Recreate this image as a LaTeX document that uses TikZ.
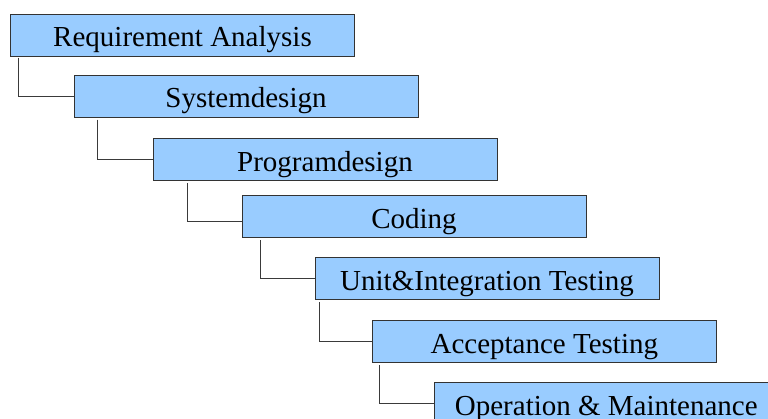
\documentclass[tikz,border=0pt]{standalone}
\usepackage{fontspec}
\setmainfont{Liberation Serif}
\definecolor{boxfill}{HTML}{99CCFF}
\definecolor{boxline}{HTML}{333333}
\definecolor{conn}{HTML}{3A3A3A}
\begin{document}
\begin{tikzpicture}[x=1pt,y=-1pt,
  stage/.style={draw=boxline, line width=1pt, fill=boxfill, minimum width=344pt, minimum height=42pt,
    inner sep=0pt, text height=23.4pt, text depth=0pt, font=\fontsize{29}{30}\selectfont, text=black},
  link/.style={draw=conn, line width=1pt}]
\useasboundingbox (0,0) rectangle (768,418);
\clip (0,0) rectangle (768,418);
\node[stage] (r1) at (182.5,35) {Requirement Analysis};
\node[stage] (r2) at (246,96) {Systemdesign};
\node[stage] (r3) at (325,159.5) {Programdesign};
\node[stage] (r4) at (414,216.5) {Coding};
\node[stage] (r5) at (487,278.7) {Unit\&Integration Testing};
\node[stage] (r6) at (544.3,341.5) {Acceptance Testing};
\node[stage] (r7) at (606.3,403.7) {Operation \& Maintenance};
\draw[link] ([xshift=8pt,yshift=-1pt]r1.south west) |- (r2.west);
\draw[link] ([xshift=23.7pt,yshift=-2pt]r2.south west) |- (r3.west);
\draw[link] ([xshift=35pt,yshift=-2pt]r3.south west) |- ([yshift=-5pt]r4.west);
\draw[link] ([xshift=19.4pt,yshift=-2pt]r4.south west) |- (r5.west);
\draw[link] ([xshift=5pt,yshift=-2pt]r5.south west) |- (r6.west);
\draw[link] ([xshift=7.7pt,yshift=-2pt]r6.south west) |- (r7.west);
\end{tikzpicture}
\end{document}
